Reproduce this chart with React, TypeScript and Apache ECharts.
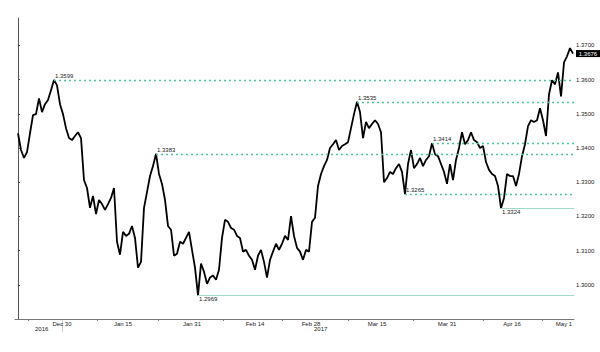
import React, { useEffect, useRef } from "react";
import * as echarts from "echarts";

// Price path (GBP-style quote), one reading per sample step
const prices: number[] = [
  1.3443, 1.3394, 1.3371, 1.3388, 1.3443, 1.3496, 1.3499, 1.3545, 1.3505, 1.3528,
  1.354, 1.3569, 1.3599, 1.3583, 1.3528, 1.3499, 1.3458, 1.3429, 1.3423, 1.3435,
  1.3446, 1.3429, 1.3306, 1.3283, 1.3225, 1.326, 1.3207, 1.3248, 1.3236, 1.3219,
  1.3236, 1.3254, 1.3283, 1.3126, 1.3088, 1.3155, 1.3143, 1.3149, 1.3172, 1.3137,
  1.305, 1.3067, 1.3225, 1.3271, 1.3318, 1.3347, 1.3383, 1.3324, 1.3295, 1.3248,
  1.3172, 1.3161, 1.3085, 1.3091, 1.3126, 1.312, 1.3137, 1.3155, 1.3102, 1.305,
  1.2969, 1.3062, 1.3038, 1.3003, 1.3021, 1.3027, 1.3015, 1.3044, 1.3137, 1.319,
  1.3184, 1.3166, 1.3161, 1.3143, 1.3137, 1.3097, 1.3102, 1.3085, 1.3073, 1.3044,
  1.3085, 1.3102, 1.3067, 1.3021, 1.3073, 1.3097, 1.312, 1.3102, 1.312, 1.3143,
  1.3131, 1.3201, 1.3143, 1.3108, 1.3097, 1.3073, 1.3102, 1.3097, 1.3184, 1.3196,
  1.3289, 1.3324, 1.3347, 1.3365, 1.34, 1.3411, 1.3423, 1.3394, 1.3406, 1.3411,
  1.3417, 1.3458, 1.3499, 1.3535, 1.3505, 1.3429, 1.3476, 1.3458, 1.347, 1.3481,
  1.347, 1.3446, 1.33, 1.3312, 1.333, 1.3324, 1.3341, 1.3353, 1.333, 1.3265,
  1.3353, 1.3394, 1.3341, 1.3353, 1.3371, 1.3347, 1.3365, 1.3376, 1.3414, 1.3382,
  1.3376, 1.3353, 1.333, 1.3295, 1.3353, 1.3306, 1.3365, 1.34, 1.3446, 1.3411,
  1.3423, 1.3446, 1.3423, 1.3417, 1.34, 1.3406, 1.3359, 1.3336, 1.3324, 1.3318,
  1.3289, 1.3224, 1.3254, 1.3324, 1.3318, 1.3318, 1.3289, 1.3324, 1.3376, 1.3411,
  1.3464, 1.3481, 1.3476, 1.3481, 1.3516, 1.3481, 1.3435, 1.3557, 1.3598, 1.3586,
  1.3621, 1.3551, 1.365, 1.3668, 1.3692, 1.3676,
];

// x-axis: sample index positions of ticks and labels
const xTickPositions: number[] = [3.33, 26.33, 46.67, 68.33, 88, 110, 131.67, 155, 174.67];
const xLabelPositions: number[] = [14.67, 35, 58, 79, 97.67, 119.67, 143, 164.67, 182];
const xLabelTexts: string[] = ["Dec 30", "Jan 15", "Jan 31", "Feb 14", "Feb 28", "Mar 15", "Mar 31", "Apr 16", "May 1"];
const yearLabels: string[] = ["2016", "2017"];

// y-axis tick labels
const yTickValues: number[] = [1.3, 1.31, 1.32, 1.33, 1.34, 1.35, 1.36, 1.37];

// annotated levels
const dashedLevels: number[] = [1.3599, 1.3383, 1.3535, 1.3414, 1.3265];
const solidLevels: number[] = [1.3224, 1.2969];
const solidLevelTexts: string[] = ["1.3324", "1.2969"];

const X_MIN = -1;
const X_MAX = 185.33;
const FONT = "Liberation Sans, Arial, sans-serif";

export default function App() {
  const ref = useRef<HTMLDivElement>(null);

  useEffect(() => {
    if (!ref.current) return;
    const chart = echarts.init(ref.current, undefined, { renderer: "svg" });

    const data = prices.map((p, i) => [i, p]);
    const idxOf = (v: number) => prices.findIndex((p) => p === v);

    const dashedItems = dashedLevels.map((v) => [
      {
        coord: [idxOf(v), v],
        lineStyle: { color: "#4cc79c", type: [2, 3], width: 1.3 },
        label: {
          show: true,
          position: "insideStartTop",
          formatter: v.toFixed(4),
          distance: 1,
          fontSize: 6,
          color: "#222",
          fontFamily: FONT,
        },
      },
      { coord: [X_MAX, v] },
    ]);

    const solidItems = solidLevels.map((v, k) => [
      {
        coord: [idxOf(v), v],
        lineStyle: { color: "#9fdac8", type: "solid", width: 1 },
        label: {
          show: true,
          position: "insideStartBottom",
          formatter: solidLevelTexts[k],
          distance: 1,
          fontSize: 6,
          color: "#222",
          fontFamily: FONT,
        },
      },
      { coord: [X_MAX, v] },
    ]);

    const last = prices[prices.length - 1];

    chart.setOption({
      animation: false,
      backgroundColor: "#fff",
      grid: { left: 15, right: 26, top: 18, bottom: 33 },
      xAxis: {
        type: "value",
        min: X_MIN,
        max: X_MAX,
        axisLine: { show: true, lineStyle: { color: "#777", width: 1 } },
        axisTick: {
          show: true,
          customValues: xTickPositions,
          length: 2,
          lineStyle: { color: "#777" },
        },
        axisLabel: {
          show: true,
          customValues: xLabelPositions,
          formatter: (v: number) => {
            const k = xLabelPositions.findIndex((p) => Math.abs(p - v) < 1e-6);
            return k >= 0 ? xLabelTexts[k] : "";
          },
          fontSize: 6,
          color: "#222",
          margin: 2,
          fontFamily: FONT,
        },
        splitLine: { show: false },
      },
      yAxis: {
        type: "value",
        position: "right",
        min: 1.29,
        max: 1.378,
        axisLine: { show: true, lineStyle: { color: "#555", width: 1 } },
        axisTick: {
          show: true,
          customValues: yTickValues,
          length: 2,
          lineStyle: { color: "#555" },
        },
        axisLabel: {
          show: true,
          customValues: yTickValues,
          formatter: (v: number) => v.toFixed(4),
          fontSize: 6,
          lineHeight: 6,
          color: "#222",
          margin: 2,
          fontFamily: FONT,
        },
        splitLine: { show: false },
      },
      series: [
        {
          type: "line",
          data,
          showSymbol: false,
          symbol: "none",
          lineStyle: { color: "#000", width: 1.8 },
          markLine: {
            silent: true,
            symbol: ["none", "none"],
            data: [...dashedItems, ...solidItems],
          },
          markPoint: {
            silent: true,
            data: [
              {
                coord: [X_MAX, last],
                symbol: "rect",
                symbolSize: [24, 7],
                symbolOffset: [14, 0],
                itemStyle: { color: "#000" },
                label: {
                  show: true,
                  position: "inside",
                  formatter: last.toFixed(4),
                  color: "#fff",
                  fontSize: 6,
                  lineHeight: 6,
                  fontFamily: FONT,
                },
              },
            ],
          },
        },
      ],
      graphic: [
        {
          type: "text",
          left: 35,
          top: 326,
          style: { text: yearLabels[0], fontSize: 6, fill: "#222", fontFamily: FONT },
        },
        {
          type: "text",
          left: 314,
          top: 326,
          style: { text: yearLabels[1], fontSize: 6, fill: "#222", fontFamily: FONT },
        },
        {
          type: "line",
          shape: { x1: 62.5, y1: 320, x2: 62.5, y2: 332 },
          style: { stroke: "#ccc", lineWidth: 1 },
        },
      ],
    });

    return () => chart.dispose();
  }, []);

  return (
    <div
      ref={ref}
      style={{ position: "fixed", left: 0, top: 0, width: 600, height: 352, background: "#fff" }}
    />
  );
}
